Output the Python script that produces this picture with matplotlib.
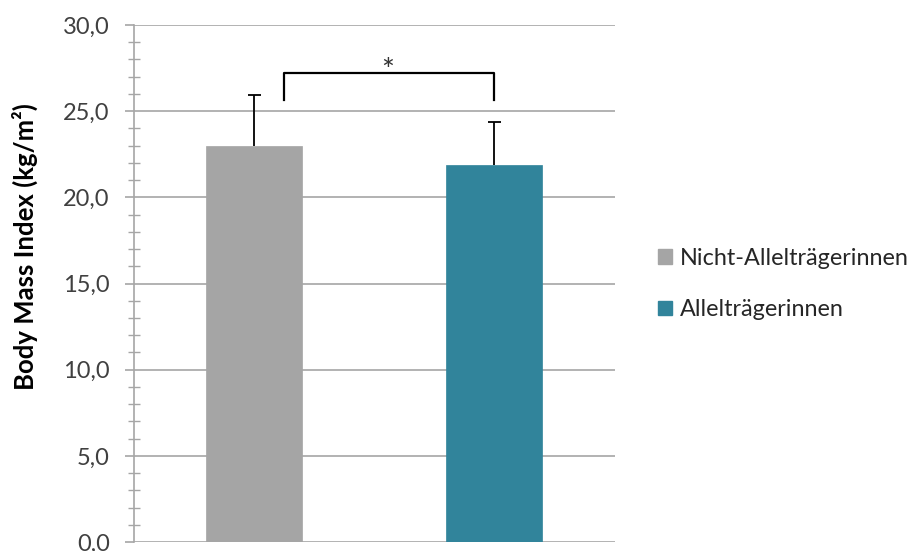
import matplotlib
matplotlib.use("Agg")
import matplotlib.pyplot as plt
from matplotlib.ticker import MultipleLocator, FuncFormatter
from matplotlib.patches import Patch

plt.rcParams['font.family'] = ['Lato', 'DejaVu Sans']

groups = ["Nicht-Allelträgerinnen", "Allelträgerinnen"]
means = [23.0, 21.9]
errors = [2.95, 2.45]
colors = ["#A5A5A5", "#31849B"]
ylabel = "Body Mass Index (kg/m²)"
sig_label = "*"
sig_bracket_y = 27.2
sig_bracket_drop = 25.65
y_ticks = [0, 5, 10, 15, 20, 25, 30]

fig = plt.figure(figsize=(9.2, 5.51), dpi=100)
ax = fig.add_axes([0.1457, 0.0163, 0.5223, 0.9383])

x = list(range(len(groups)))
ax.bar(x, means, width=0.4, color=colors, zorder=3, edgecolor=colors, linewidth=0.5)
tops = [m + e for m, e in zip(means, errors)]
ax.vlines(x, means, tops, color='black', linewidth=1.3, zorder=4)
ax.hlines(tops, [xi - 0.027 for xi in x], [xi + 0.027 for xi in x], color='black',
          linewidth=1.3, zorder=4)

ax.set_xlim(-0.5, 1.5)
ax.set_ylim(0, 30)
ax.set_yticks(y_ticks)
ax.yaxis.set_minor_locator(MultipleLocator(1))
ax.yaxis.set_major_formatter(FuncFormatter(lambda v, p: f"{v:.1f}".replace('.', ',')))
ax.set_xticks([])

ax.grid(axis='y', which='major', color='#A6A6A6', linewidth=1.2, zorder=0)
for s in ['top', 'right', 'bottom']:
    ax.spines[s].set_visible(False)
ax.spines['left'].set_color('#A6A6A6')
ax.spines['left'].set_linewidth(1.2)
ax.tick_params(axis='y', which='major', direction='out', length=6.5, width=1.2,
               color='#A6A6A6', labelsize=17, labelcolor='#404040', pad=11)
ax.tick_params(axis='y', which='minor', direction='inout', length=8.5, width=1.0,
               color='#A6A6A6')

ax.set_ylabel(ylabel, fontsize=18.5, fontweight='bold')
ax.yaxis.set_label_coords(-0.199, 0.571)

# significance bracket
bx0, bx1 = 0.125, 1.0
ax.plot([bx0, bx0, bx1, bx1], [sig_bracket_drop, sig_bracket_y, sig_bracket_y, sig_bracket_drop],
        color='black', linewidth=1.6, zorder=5, clip_on=False)
ax.text((bx0 + bx1) / 2 - 0.005, 26.5, sig_label, ha='center', va='bottom',
        fontsize=22, color='#333333')

handles = [Patch(facecolor=c, edgecolor=c) for c in colors]
fig.legend(handles, groups, loc='center left', bbox_to_anchor=(0.715, 0.4846), frameon=False,
           fontsize=16.8, handlelength=0.6, handleheight=0.6, handletextpad=0.35,
           labelspacing=1.3, labelcolor='#262626', borderpad=0, borderaxespad=0)

fig.savefig("out.png", dpi=100)
